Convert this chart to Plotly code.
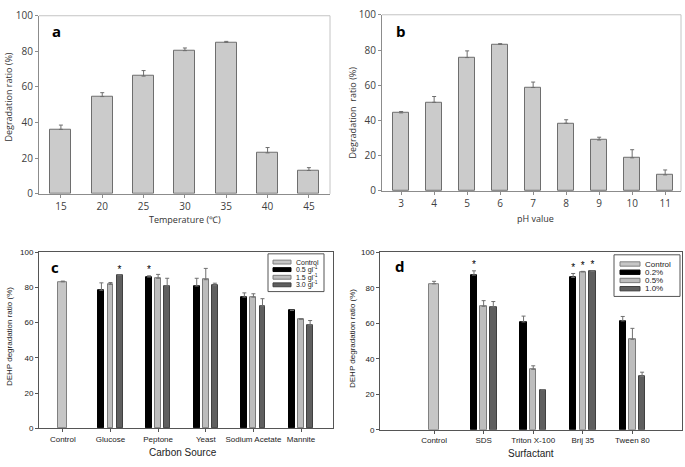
import plotly.graph_objects as go

W, H = 685, 467

# ---------------- data ----------------
# Panel a: temperature
temp_labels = ["15", "20", "25", "30", "35", "40", "45"]
temp_ratio = [36.2, 54.6, 66.1, 80.4, 85.1, 23.0, 13.1]
temp_err = [2.4, 2.2, 3.1, 1.5, 0.5, 3.0, 1.6]

# Panel b: pH
ph_labels = ["3", "4", "5", "6", "7", "8", "9", "10", "11"]
ph_ratio = [44.3, 50.3, 75.7, 83.2, 58.7, 38.4, 28.9, 18.8, 9.1]
ph_err = [0.8, 3.3, 3.8, 0.4, 3.1, 2.0, 1.6, 4.6, 2.8]

# Panel c: carbon source
carbon_groups = ["Control", "Glucose", "Peptone", "Yeast", "Sodium Acetate", "Mannite"]
carbon_control = [83.2]
carbon_control_err = [0.4]
carbon_names = ["0.5 gl<sup>-1</sup>", "1.5 gl<sup>-1</sup>", "3.0 gl<sup>-1</sup>"]
carbon_05 = [78.4, 85.9, 80.8, 74.5, 67.0]
carbon_05_err = [4.2, 0.7, 4.4, 2.4, 0.0]
carbon_15 = [81.7, 85.2, 84.4, 74.5, 61.9]
carbon_15_err = [1.1, 2.2, 6.4, 1.9, 0.3]
carbon_30 = [87.0, 80.8, 81.0, 69.4, 58.6]
carbon_30_err = [0.0, 4.4, 1.4, 4.2, 2.6]
carbon_05_star = [False, True, False, False, False]
carbon_15_star = [False, False, False, False, False]
carbon_30_star = [True, False, False, False, False]

# Panel d: surfactant
surf_groups = ["Control", "SDS", "Triton X-100", "Brij 35", "Tween 80"]
surf_control = [82.2]
surf_control_err = [1.4]
surf_names = ["0.2%", "0.5%", "1.0%"]
surf_02 = [87.1, 60.7, 85.8, 61.3]
surf_02_err = [2.4, 3.3, 2.2, 2.5]
surf_05 = [69.5, 34.0, 88.9, 50.9]
surf_05_err = [3.2, 2.0, 0.3, 6.2]
surf_10 = [69.1, 22.5, 89.1, 30.0]
surf_10_err = [3.1, 0.0, 0.4, 2.4]
surf_02_star = [True, False, True, False]
surf_05_star = [False, False, True, False]
surf_10_star = [False, False, True, False]

# ---------------- styling ----------------
def px(x):
    return x / W

def py(y):
    return 1 - y / H

GRAY_FILL = "#cbcbcb"
GRAY_EDGE = "#6e6e6e"
C_CTRL = "#c6c6c6"
C_BLACK = "#000000"
C_LIGHT = "#bdbdbd"
C_DARK = "#5f5f5f"
series_colors = [C_BLACK, C_LIGHT, C_DARK]
series_edges = ["#000000", "#7a7a7a", "#404040"]

FONT_AB = "Open Sans"
FONT_CD = "Liberation Sans, Arial"

fig = go.Figure()

def upper_err(vals):
    return dict(type="data", symmetric=False, array=vals, arrayminus=[0] * len(vals),
                width=2, thickness=1, color=GRAY_EDGE)

# Panel a
fig.add_trace(go.Bar(x=temp_labels, y=temp_ratio, width=0.51, marker=dict(color=GRAY_FILL, line=dict(color=GRAY_EDGE, width=1)),
                     error_y=upper_err(temp_err), xaxis="x", yaxis="y", showlegend=False))
# Panel b
fig.add_trace(go.Bar(x=ph_labels, y=ph_ratio, width=0.485, marker=dict(color=GRAY_FILL, line=dict(color=GRAY_EDGE, width=1)),
                     error_y=upper_err(ph_err), xaxis="x2", yaxis="y2", showlegend=False))

def cd_err(vals):
    return dict(type="data", symmetric=False, array=vals, arrayminus=[0] * len(vals),
                width=2, thickness=1, color="#707070")

def add_grouped(ctrl, ctrl_err, series, errs, stars, offsets, bw, cw, xa, ya):
    fig.add_trace(go.Bar(x=[0], y=ctrl, width=cw, marker=dict(color=C_CTRL, line=dict(color="#808080", width=1)),
                         error_y=cd_err(ctrl_err), xaxis=xa, yaxis=ya, showlegend=False))
    for k, (vals, e, st) in enumerate(zip(series, errs, stars)):
        xs = [i + 1 + offsets[k] for i in range(len(vals))]
        fig.add_trace(go.Bar(x=xs, y=vals, width=bw,
                             marker=dict(color=series_colors[k], line=dict(color=series_edges[k], width=1)),
                             error_y=cd_err(e), xaxis=xa, yaxis=ya, showlegend=False))
        sx = [x for x, s in zip(xs, st) if s]
        sy = [v + ee for v, ee, s in zip(vals, e, st) if s]
        if sx:
            fig.add_trace(go.Scatter(x=sx, y=sy, mode="text", text=["*"] * len(sx), textposition="top center",
                                     textfont=dict(size=10, color="#000", family=FONT_CD),
                                     xaxis=xa, yaxis=ya, showlegend=False, hoverinfo="skip"))

add_grouped(carbon_control, carbon_control_err,
            [carbon_05, carbon_15, carbon_30], [carbon_05_err, carbon_15_err, carbon_30_err],
            [carbon_05_star, carbon_15_star, carbon_30_star],
            [-0.19, 0.0, 0.19], 0.125, 0.19, "x3", "y3")
add_grouped(surf_control, surf_control_err,
            [surf_02, surf_05, surf_10], [surf_02_err, surf_05_err, surf_10_err],
            [surf_02_star, surf_05_star, surf_10_star],
            [-0.195, 0.0, 0.195], 0.13, 0.2, "x4", "y4")

ax_ab = dict(showgrid=False, zeroline=False, showline=True, linecolor="#8c8c8c", linewidth=1,
             ticks="outside", ticklen=3, tickcolor="#8c8c8c",
             tickfont=dict(family=FONT_AB, size=10, color="#404040"))
ax_cd = dict(showgrid=False, zeroline=False, showline=True, linecolor="#555555", linewidth=1, mirror=True,
             ticks="outside", ticklen=3, tickcolor="#555555",
             tickfont=dict(family=FONT_CD, size=8, color="#222"))

yticks = [0, 20, 40, 60, 80, 100]

fig.update_layout(
    width=W, height=H, margin=dict(l=0, r=0, t=0, b=0),
    paper_bgcolor="white", plot_bgcolor="white", bargap=0,
    xaxis=dict(ax_ab, type="category", domain=[px(39), px(330)], range=[-0.53, 6.51], anchor="y"),
    yaxis=dict(ax_ab, domain=[py(192), py(8)], range=[0, 100], tickvals=yticks, anchor="x"),
    xaxis2=dict(ax_ab, type="category", domain=[px(382), px(681)], range=[-0.58, 8.48], anchor="y2"),
    yaxis2=dict(ax_ab, domain=[py(189), py(7)], range=[0, 100], tickvals=yticks, anchor="x2"),
    xaxis3=dict(ax_cd, domain=[px(39), px(333)], range=[-0.5, 5.67], tickvals=list(range(len(carbon_groups))),
                ticktext=carbon_groups, anchor="y3"),
    yaxis3=dict(ax_cd, domain=[py(434.3), py(252.3)], range=[0, 100], tickvals=yticks, anchor="x3"),
    xaxis4=dict(ax_cd, domain=[px(380), px(682)], range=[-1.09, 5.0], tickvals=list(range(len(surf_groups))),
                ticktext=surf_groups, anchor="y4"),
    yaxis4=dict(ax_cd, domain=[py(435.7), py(252.3)], range=[0, 100], tickvals=yticks, anchor="x4"),
)

shapes = []
# light frames for a and b (top and right)
for xr, yr in [("x", "y"), ("x2", "y2")]:
    shapes.append(dict(type="line", xref=xr + " domain", yref=yr + " domain", x0=0, x1=1, y0=1, y1=1,
                       line=dict(color="#c4c4c4", width=1)))
    shapes.append(dict(type="line", xref=xr + " domain", yref=yr + " domain", x0=1, x1=1, y0=0, y1=1,
                       line=dict(color="#c4c4c4", width=1)))

annotations = []

def ann(text, x, y, size, family, bold=False, angle=0, color="#333"):
    annotations.append(dict(text=f"<b>{text}</b>" if bold else text, x=px(x), y=py(y), xref="paper", yref="paper",
                            showarrow=False, textangle=angle, xanchor="center", yanchor="middle",
                            font=dict(size=size, family=family, color=color)))

# panel letters
ann("a", 56, 24, 15, FONT_AB, bold=True, color="#000")
ann("b", 401, 24, 15, FONT_AB, bold=True, color="#000")
ann("c", 55, 268, 15, FONT_AB, bold=True, color="#000")
ann("d", 400, 267, 15, FONT_AB, bold=True, color="#000")

# axis titles
ann("Degradation ratio (%)", 8.5, 92, 9, FONT_AB, angle=-90)
ann("Temperature (℃)", 185, 219, 9, FONT_AB)
ann("Degradation  ratio (%)", 353, 108, 9, FONT_AB, angle=-90)
ann("pH value", 535, 218, 9, FONT_AB)
ann("DEHP degradation ratio (%)", 9, 340, 8, FONT_CD, angle=-90, color="#222")
ann("Carbon Source", 182.5, 459.5, 10, FONT_CD, color="#222")
ann("DEHP degradation ratio (%)", 352, 342, 8, FONT_CD, angle=-90, color="#222")
ann("Surfactant", 531, 460, 10, FONT_CD, color="#222")

# manual legends
def legend_box(x0, x1, y0, y1, sw_x0, sw_x1, text_x, ys, labels, colors, edges, fsize, sh):
    shapes.append(dict(type="rect", xref="paper", yref="paper", x0=px(x0), x1=px(x1), y0=py(y1), y1=py(y0),
                       line=dict(color="#555", width=1), fillcolor="white", layer="above"))
    for yy, lab, col, ed in zip(ys, labels, colors, edges):
        shapes.append(dict(type="rect", xref="paper", yref="paper", x0=px(sw_x0), x1=px(sw_x1),
                           y0=py(yy + sh / 2), y1=py(yy - sh / 2), fillcolor=col, line=dict(color=ed, width=1),
                           layer="above"))
        annotations.append(dict(text=lab, x=px(text_x), y=py(yy), xref="paper", yref="paper", showarrow=False,
                                xanchor="left", yanchor="middle",
                                font=dict(size=fsize, family=FONT_CD, color="#222")))

legend_box(268, 324, 254, 293, 273, 291, 294, [262.5, 270.3, 278.2, 286.0],
           ["Control"] + carbon_names, [C_CTRL] + series_colors, ["#808080"] + series_edges, 7, 4)
legend_box(614, 680, 255, 298, 620, 640, 643, [264.5, 273, 281.5, 290],
           ["Control"] + surf_names, [C_CTRL] + series_colors, ["#808080"] + series_edges, 8, 4.5)

fig.update_layout(shapes=shapes, annotations=annotations)

fig.write_html("out.html", config={"displayModeBar": False},
               post_script="document.body.style.margin='0';document.body.style.overflow='hidden';")
